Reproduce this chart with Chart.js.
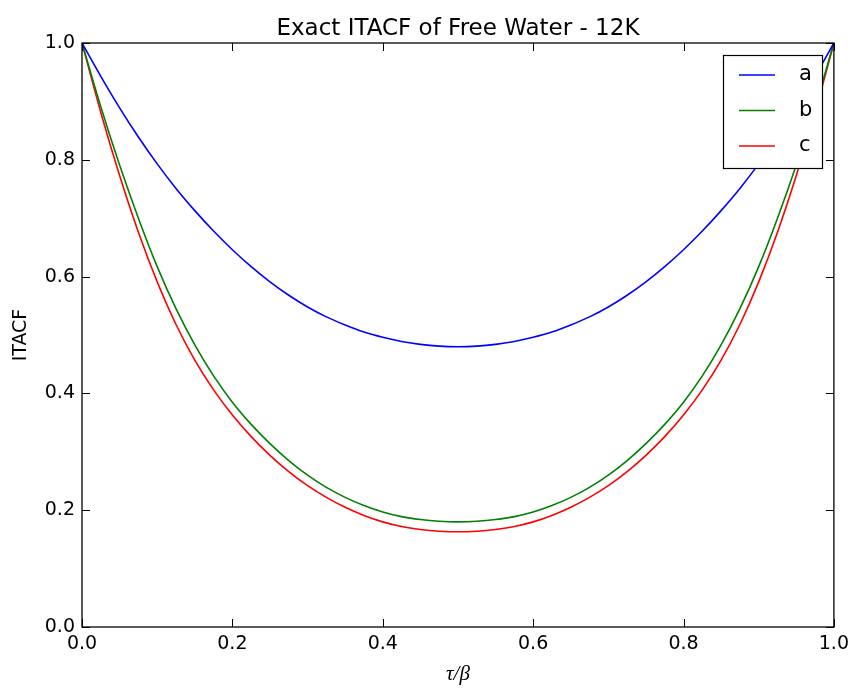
<!DOCTYPE html>
<html>
<head>
<meta charset="utf-8">
<script src="https://cdn.jsdelivr.net/npm/chart.js@4/dist/chart.umd.min.js"></script>
<style>
  html, body { margin: 0; padding: 0; background: #ffffff; }
  #wrap { width: 855px; height: 689px; position: relative; }
</style>
</head>
<body>
<div id="wrap"><canvas id="c" width="855" height="689"></canvas></div>
<script>
// ---- data ----
const tau = [0, 0.025, 0.05, 0.075, 0.1, 0.125, 0.15, 0.175, 0.2, 0.225, 0.25, 0.275, 0.3, 0.325, 0.35, 0.375, 0.4, 0.425, 0.45, 0.475, 0.5,
             0.525, 0.55, 0.575, 0.6, 0.625, 0.65, 0.675, 0.7, 0.725, 0.75, 0.775, 0.8, 0.825, 0.85, 0.875, 0.9, 0.925, 0.95, 0.975, 1.0];
const itacfA = [1.000, 0.943, 0.889, 0.839, 0.793, 0.751, 0.713, 0.678, 0.646, 0.617, 0.591, 0.568, 0.548, 0.531, 0.517, 0.505, 0.496, 0.489, 0.484, 0.481, 0.480,
                0.481, 0.484, 0.489, 0.496, 0.505, 0.517, 0.531, 0.548, 0.568, 0.591, 0.617, 0.646, 0.678, 0.713, 0.751, 0.793, 0.839, 0.889, 0.943, 1.000];
const itacfB = [1.000, 0.891, 0.791, 0.700, 0.617, 0.545, 0.483, 0.430, 0.385, 0.347, 0.314, 0.285, 0.260, 0.239, 0.222, 0.208, 0.197, 0.189, 0.184, 0.181, 0.180,
                0.181, 0.184, 0.189, 0.197, 0.208, 0.222, 0.239, 0.260, 0.285, 0.314, 0.347, 0.385, 0.430, 0.483, 0.545, 0.617, 0.700, 0.791, 0.891, 1.000];
const itacfC = [1.000, 0.881, 0.773, 0.676, 0.591, 0.518, 0.457, 0.406, 0.363, 0.326, 0.294, 0.266, 0.242, 0.222, 0.205, 0.191, 0.180, 0.172, 0.167, 0.164, 0.163,
                0.164, 0.167, 0.172, 0.180, 0.191, 0.205, 0.222, 0.242, 0.266, 0.294, 0.326, 0.363, 0.406, 0.457, 0.518, 0.591, 0.676, 0.773, 0.881, 1.000];
const seriesNames = ['a', 'b', 'c'];
const seriesColors = ['#0000ff', '#008000', '#ff0000'];
const xTicks = [0.0, 0.2, 0.4, 0.6, 0.8, 1.0];
const yTicks = [0.0, 0.2, 0.4, 0.6, 0.8, 1.0];
const titleText = 'Exact ITACF of Free Water - 12K';
const xLabel = 'τ/β';
const yLabel = 'ITACF';

const seriesValues = [itacfA, itacfB, itacfC];
const datasets = seriesValues.map((vals, i) => ({
  label: seriesNames[i],
  data: tau.map((t, k) => ({ x: t, y: vals[k] })),
  borderColor: seriesColors[i],
  backgroundColor: seriesColors[i],
  borderWidth: 1.6,
  pointRadius: 0,
  fill: false,
  cubicInterpolationMode: 'monotone'
}));

const FONT = 'DejaVu Sans';

const framePlugin = {
  id: 'frame',
  afterDraw(chart) {
    const ctx = chart.ctx;
    const a = chart.chartArea;
    const xs = chart.scales.x, ys = chart.scales.y;
    ctx.save();
    // inward ticks on all four sides
    ctx.strokeStyle = '#000';
    ctx.lineWidth = 1;
    const L = 8;
    ctx.beginPath();
    xTicks.forEach(v => {
      const px = Math.round(xs.getPixelForValue(v)) + 0.5;
      ctx.moveTo(px, a.bottom); ctx.lineTo(px, a.bottom - L);
      ctx.moveTo(px, a.top); ctx.lineTo(px, a.top + L);
    });
    yTicks.forEach(v => {
      const py = Math.round(ys.getPixelForValue(v)) + 0.5;
      ctx.moveTo(a.left, py); ctx.lineTo(a.left + L, py);
      ctx.moveTo(a.right, py); ctx.lineTo(a.right - L, py);
    });
    ctx.stroke();
    // frame
    ctx.lineWidth = 1.3;
    ctx.strokeRect(a.left, a.top, a.right - a.left, a.bottom - a.top);
    // title centred over axes
    ctx.fillStyle = '#000';
    ctx.font = '23px "' + FONT + '"';
    ctx.textAlign = 'center';
    ctx.textBaseline = 'alphabetic';
    ctx.fillText(titleText, (a.left + a.right) / 2, 35);
    // legend
    const bx = 723, by = 55, bw = 99, bh = 113;
    ctx.fillStyle = '#fff';
    ctx.fillRect(bx, by, bw, bh);
    ctx.lineWidth = 1.2;
    ctx.strokeStyle = '#000';
    ctx.strokeRect(bx + 0.5, by + 0.5, bw, bh);
    chart.data.datasets.forEach((ds, i) => {
      const yy = by + 20 + i * 35.5;
      ctx.strokeStyle = ds.borderColor;
      ctx.lineWidth = 1.6;
      ctx.beginPath();
      ctx.moveTo(739, yy); ctx.lineTo(775, yy);
      ctx.stroke();
      ctx.fillStyle = '#000';
      ctx.font = '21px "' + FONT + '"';
      ctx.textAlign = 'left';
      ctx.textBaseline = 'middle';
      ctx.fillText(ds.label, 799, yy);
    });
    ctx.restore();
  }
};

new Chart(document.getElementById('c'), {
  type: 'line',
  data: { datasets },
  options: {
    responsive: false,
    animation: false,
    devicePixelRatio: 1,
    layout: { padding: { top: 43, right: 21, bottom: 0, left: 0 } },
    plugins: { legend: { display: false }, tooltip: { enabled: false }, title: { display: false } },
    scales: {
      x: {
        type: 'linear', min: 0, max: 1,
        afterFit: s => { s.height = 62; },
        afterBuildTicks: s => { s.ticks = xTicks.map(v => ({ value: v })); },
        grid: { display: false, drawTicks: false },
        border: { display: false },
        ticks: { padding: 6, color: '#000', font: { family: FONT, size: 19 }, callback: v => Number(v).toFixed(1), maxRotation: 0, autoSkip: false },
        title: { display: true, text: xLabel, color: '#000', font: { family: 'Liberation Serif', size: 21, style: 'italic' }, padding: { top: 0, bottom: 2 } }
      },
      y: {
        type: 'linear', min: 0, max: 1,
        afterFit: s => { s.width = 82; },
        afterBuildTicks: s => { s.ticks = yTicks.map(v => ({ value: v })); },
        grid: { display: false, drawTicks: false },
        border: { display: false },
        ticks: { padding: 7, color: '#000', font: { family: FONT, size: 19 }, callback: v => Number(v).toFixed(1), autoSkip: false },
        title: { display: true, text: yLabel, color: '#000', font: { family: FONT, size: 19 }, padding: { top: 10, bottom: 0 } }
      }
    }
  },
  plugins: [framePlugin]
});
</script>
</body>
</html>
